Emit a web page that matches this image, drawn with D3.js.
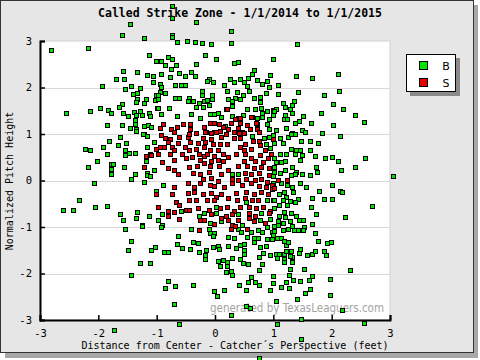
<!DOCTYPE html>
<html><head><meta charset="utf-8">
<script src="https://cdn.jsdelivr.net/npm/d3@7"></script>
<style>html,body{margin:0;padding:0;background:#fff;}svg{display:block;}</style>
</head><body>
<script>
const title = "Called Strike Zone - 1/1/2014 to 1/1/2015";
const xLabel = "Distance from Center - Catcher\u00b4s Perspective (feet)";
const yLabel = "Normalized Pitch Height";
const watermark = "generated by TexasLeaguers.com";
const xTicks = [-3,-2,-1,0,1,2,3];
const yTicks = [-3,-2,-1,0,1,2,3];
const gridLines = [-2,-1,0,1,2];
const legendLabels = ["B","S"];

const balls = [
[-0.74,3.76],[-0.74,3.50],[-1.46,3.37],[-0.33,3.41],[-1.60,3.13],[-1.21,3.07],[-0.74,3.13],[-0.74,3.08],[0.27,3.22],[-0.66,2.98],[-0.48,3.00],[-0.35,2.98],[-0.23,2.96],[-0.07,2.94],[0.27,2.96],[1.40,2.94],
[-2.82,2.81],[-2.18,2.85],[-1.13,2.70],[-1.02,2.57],[-1.58,2.35],[-1.33,2.33],[-1.17,2.27],[-1.07,2.25],[-1.70,2.18],[-1.56,2.18],[-1.07,2.12],[-1.94,2.03],[-1.44,2.03],[-1.55,1.96],[-1.29,1.99],[-1.33,1.88],[-1.41,1.86],[-1.34,1.75],[-1.19,1.75],[-1.02,1.84],[-1.03,1.73],[-1.36,1.68],[-1.22,1.66],[-1.60,1.64],[-1.65,1.58],[-1.98,1.56],[-1.84,1.51],[-1.79,1.45],[-1.58,1.45],[-2.15,1.49],[-2.56,1.45],[-1.50,1.38],[-1.39,1.47],[-1.29,1.49],[-1.36,1.40],[-1.26,1.40],[-1.14,1.45],[-1.12,1.38],[-1.00,1.56],[-1.38,1.30],[-1.38,1.21],[-1.86,1.19],[-1.60,1.19],[-1.46,1.12],[-1.36,1.10],[-1.21,1.17],[-1.15,1.19],[-1.09,1.14],[-1.22,0.99],
[-0.18,2.70],[0.01,2.61],[-0.81,2.66],[-0.74,2.61],[-0.93,2.57],[-0.85,2.48],[-0.67,2.48],[-0.76,2.40],[-0.33,2.51],[0.32,2.53],[0.39,2.55],[0.99,2.61],[-0.93,2.29],[-0.78,2.22],[-0.61,2.31],[-0.52,2.25],[-0.35,2.25],[-0.42,2.33],[0.66,2.38],[0.63,2.29],[0.94,2.27],[-0.11,2.18],[-0.13,2.14],[-0.04,2.12],[0.25,2.18],[0.32,2.12],[0.42,2.18],[0.56,2.20],[0.49,2.12],[0.72,2.16],[0.80,2.07],[0.89,2.14],[0.92,2.01],[-0.95,2.07],[-0.93,2.01],[-0.69,2.05],[-0.59,2.05],[-0.52,2.05],[0.15,2.05],[0.54,2.03],[-0.95,1.90],[-0.85,1.88],[-0.98,1.84],[-0.98,1.75],[-0.69,1.77],[-0.61,1.77],[-0.45,1.77],[-0.23,1.92],[-0.23,1.84],[-0.06,1.84],[-0.06,1.75],[0.20,1.92],[0.37,1.90],[0.22,1.75],[0.34,1.77],[0.30,1.71],[0.42,1.75],[0.48,1.84],[0.58,1.92],[0.66,1.77],[0.77,1.79],[0.77,1.68],[0.87,1.88],[-0.98,1.56],[-0.79,1.56],[-0.47,1.71],[-0.38,1.71],[-0.28,1.66],[-0.19,1.71],[-0.13,1.73],[-0.11,1.62],[-0.21,1.58],[-0.33,1.58],[0.30,1.60],[0.18,1.53],[0.54,1.53],[0.68,1.53],[0.79,1.56],[0.89,1.49],[0.99,1.51],[0.80,1.45],[-0.93,1.43],[-0.66,1.38],[-0.42,1.43],[-0.26,1.34],[-0.09,1.43],[-0.02,1.43],[0.05,1.45],[0.11,1.36],[0.30,1.38],[0.39,1.34],[0.48,1.40],[0.63,1.36],[0.72,1.34],[0.80,1.36],[0.92,1.32],[0.99,1.40],[0.72,1.21],[0.89,1.21],[0.92,1.10],[0.17,1.17],
[1.38,2.25],[1.66,2.20],[2.11,2.29],[1.08,2.05],[1.08,1.86],[1.42,1.90],[1.86,1.84],[2.12,1.92],[1.35,1.71],[1.16,1.66],[1.32,1.62],[1.20,1.58],[1.28,1.53],[1.04,1.53],[1.02,1.49],[1.32,1.45],[2.02,1.64],[2.19,1.53],[1.20,1.40],[1.51,1.38],[1.81,1.45],[2.40,1.40],[1.18,1.32],[1.23,1.32],[1.44,1.27],[1.37,1.23],[1.64,1.23],[2.02,1.19],[2.55,1.25],[1.21,1.12],[1.04,1.08],[1.49,1.08],[1.54,1.04],[1.83,1.02],[1.32,1.02],[1.37,0.99],
[-1.63,0.93],[-1.81,0.84],[-1.92,0.71],[-1.67,0.76],[-1.53,0.80],[-2.22,0.67],[-2.15,0.65],[-1.86,0.58],[-1.55,0.65],[-1.48,0.60],[-1.38,0.60],[-1.55,0.54],[-2.03,0.41],[-2.17,0.30],[-1.79,0.35],[-1.75,0.35],[-1.79,0.24],[-1.79,0.13],[-1.56,0.28],[-1.38,0.15],[-1.44,0.04],[-2.08,-0.06],[-2.34,-0.41],[-2.60,-0.63],[-2.44,-0.63],[-2.06,-0.56],[-1.86,-0.54],[-1.62,-0.71],[-1.34,-0.67],[-1.57,-0.86],[-1.36,-0.80],[-1.14,-0.76],[-1.26,-0.95],[-1.36,1.06],[-1.24,0.99],[-1.17,0.95],[-1.05,0.82],[-1.17,0.71],[-1.12,0.58],[-1.19,0.41],[-1.05,0.22],[-1.16,0.17],[-1.17,0.11],[-1.12,0.09],[-1.21,-0.04],[-1.02,-0.22],
[0.63,0.95],[0.84,0.91],[0.92,0.93],[0.99,0.97],[0.87,0.78],[0.94,0.69],[0.30,0.13],[0.39,0.15],[-0.90,-0.09],[0.89,-0.43],[0.99,-0.43],[-0.59,-0.65],[0.01,-0.56],[0.53,-0.47],[-0.91,-0.73],[-0.28,-0.76],[-0.19,-0.69],[0.01,-0.69],[0.39,-0.73],[0.78,-0.69],[-0.09,-0.91],[0.11,-0.88],[0.46,-0.95],[0.77,-0.84],[0.94,-0.82],[-0.91,-0.95],[-0.98,-0.86],
[1.11,0.91],[1.25,0.93],[1.30,0.99],[2.14,0.95],[1.02,0.80],[1.16,0.80],[1.47,0.84],[1.62,0.86],[1.76,0.80],[1.30,0.67],[1.38,0.65],[1.21,0.56],[1.11,0.56],[1.37,0.56],[1.45,0.65],[1.62,0.65],[1.49,0.54],[1.71,0.52],[1.88,0.48],[2.00,0.50],[2.10,0.43],[2.57,0.48],[1.02,0.48],[1.20,0.43],[1.04,0.39],[1.45,0.45],[1.13,0.39],[1.32,0.30],[1.73,0.30],[2.40,0.30],[2.16,0.22],[1.02,0.30],[1.02,0.19],[1.11,0.17],[1.20,0.22],[1.38,0.19],[1.49,0.13],[1.62,0.11],[1.74,0.19],[1.30,0.11],[1.37,0.15],[0.99,0.09],[1.14,-0.06],[1.23,-0.09],[1.32,-0.13],[0.99,-0.06],[1.45,-0.06],[1.56,-0.15],[2.00,-0.09],[1.78,-0.22],[2.14,-0.22],[2.17,-0.24],[3.05,0.09],[1.09,-0.30],[1.18,-0.24],[1.33,-0.24],[1.21,-0.35],[1.01,-0.43],[1.16,-0.41],[1.42,-0.39],[1.66,-0.37],[1.86,-0.39],[2.00,-0.39],[2.69,-0.54],[1.37,-0.47],[1.28,-0.45],[1.09,-0.52],[1.23,-0.52],[1.64,-0.58],[1.01,-0.60],[1.18,-0.67],[1.30,-0.69],[1.73,-0.71],[1.09,-0.76],[1.20,-0.78],[1.38,-0.76],[2.23,-0.78],[1.28,-0.88],[1.44,-0.86],[1.51,-0.84],[1.08,-0.88],[1.16,-0.91],[1.66,-0.93],[1.32,-0.97],[1.01,-0.97],[1.52,-0.99],
[-1.55,-1.04],[-1.26,-0.97],[-1.44,-1.30],[-1.50,-1.49],[-1.03,-1.43],[-1.09,-1.49],[-1.29,-1.77],[-1.12,-1.77],[-1.44,-2.03],
[-0.93,-0.99],[-0.42,-1.04],[-0.11,-1.04],[0.39,-1.04],[0.44,-1.10],[0.61,-1.10],[0.73,-1.06],[0.80,-1.10],[0.89,-1.01],[0.97,-1.10],[-0.09,-1.12],[-0.02,-1.12],[-0.04,-1.19],[0.23,-1.21],[0.32,-1.23],[0.54,-1.21],[0.66,-1.23],[0.73,-1.23],[0.89,-1.25],[0.99,-1.17],[-0.64,-1.19],[-0.38,-1.32],[-0.30,-1.34],[-0.66,-1.36],[-0.57,-1.45],[-0.43,-1.47],[-0.88,-1.53],[-0.81,-1.53],[-0.16,-1.49],[-0.28,-1.53],[-0.04,-1.43],[0.05,-1.40],[0.06,-1.47],[0.22,-1.40],[0.36,-1.45],[0.42,-1.38],[0.49,-1.36],[0.49,-1.49],[0.49,-1.58],[0.66,-1.32],[0.77,-1.43],[0.87,-1.40],[0.82,-1.55],[0.94,-1.60],[0.97,-1.25],[-0.18,-1.60],[-0.18,-1.68],[0.30,-1.66],[0.42,-1.68],[0.05,-1.73],[0.13,-1.71],[0.20,-1.75],[0.08,-1.84],[0.20,-1.84],[0.48,-1.77],[0.56,-1.79],[0.80,-1.79],[0.75,-1.64],[0.18,-1.97],[0.27,-1.94],[0.29,-2.03],[0.75,-1.92],[0.99,-2.05],[0.61,-2.07],[0.68,-2.18],[0.56,-2.18],[0.75,-2.24],[-0.81,-2.16],[-0.85,-2.31],[-0.69,-2.27],[-0.38,-2.24],[0.41,-2.24],[0.53,-2.35],[-0.01,-2.37],[0.03,-2.48],[0.15,-2.35],[0.95,-2.35],[-0.71,-2.66],[0.53,-2.70],[0.60,-2.74],[0.27,-2.89],[-0.62,-3.09],
[1.08,-0.95],[1.25,-1.04],[1.35,-1.06],[1.16,-1.06],[1.02,-1.08],[1.42,-1.06],[1.51,-1.06],[1.71,-1.12],[1.06,-1.23],[1.14,-1.23],[1.18,-1.30],[1.21,-1.38],[1.25,-1.32],[1.76,-1.30],[1.92,-1.34],[1.98,-1.32],[1.04,-1.58],[1.09,-1.58],[1.06,-1.66],[1.18,-1.58],[1.21,-1.51],[1.30,-1.51],[1.32,-1.64],[1.28,-1.62],[1.18,-1.68],[1.18,-1.75],[1.32,-1.75],[1.44,-1.55],[1.45,-1.47],[1.57,-1.60],[1.66,-1.58],[1.71,-1.51],[1.86,-1.51],[1.90,-1.60],[1.28,-1.90],[1.52,-1.90],[2.31,-1.92],[0.99,-2.20],[1.26,-2.03],[1.33,-2.14],[1.45,-2.16],[1.61,-2.14],[1.66,-2.05],[1.97,-2.12],[1.21,-2.18],[1.14,-2.29],[1.26,-2.31],[1.62,-2.33],[1.54,-2.42],[1.97,-2.46],[1.40,-2.55],[1.04,-2.59],[2.17,-2.79],[1.47,-2.98],[1.06,-3.09],[2.55,-3.07],
[-1.74,-3.22],[1.47,-3.41],[0.75,-3.82]
];

const strikes = [
[0.20,1.53],[-0.90,1.21],[-0.95,1.12],[-0.76,1.10],[-0.66,1.14],[-0.54,1.21],[-0.43,1.21],[-0.43,1.10],[-0.19,1.14],[-0.09,1.23],[-0.02,1.23],[0.06,1.21],[0.13,1.14],[0.22,1.10],[0.27,1.23],[0.34,1.32],[0.42,1.34],[0.54,1.19],[0.61,1.36],[0.70,1.23],[0.60,1.10],[0.42,1.23],[0.39,1.12],[0.46,1.04],[0.72,1.10],[-0.71,1.04],[-0.16,1.04],[-0.01,1.04],[0.08,1.06],[0.32,1.04],
[-1.02,0.67],[-1.19,0.52],[-1.10,0.54],[-1.22,0.28],[-1.02,-0.28],
[-0.93,0.97],[-0.85,0.91],[-0.78,0.89],[-0.61,0.93],[-0.47,0.93],[-0.45,0.99],[-0.33,1.02],[-0.18,1.04],[-0.07,1.02],[0.01,1.04],[0.11,0.93],[0.18,0.99],[0.32,0.91],[0.41,1.02],[0.49,1.02],[0.75,1.04],[-0.21,0.91],[-0.07,0.89],[0.42,0.91],[0.75,0.86],[-0.81,0.82],[-0.88,0.73],[-0.95,0.71],[-0.74,0.71],[-0.64,0.80],[-0.52,0.73],[-0.43,0.82],[-0.30,0.80],[-0.18,0.82],[-0.19,0.73],[-0.04,0.78],[0.08,0.78],[0.20,0.78],[0.42,0.73],[0.51,0.78],[0.65,0.84],[0.77,0.76],[-0.71,0.65],[-0.45,0.65],[-0.33,0.67],[-0.09,0.65],[0.05,0.65],[0.49,0.65],[0.61,0.67],[0.85,0.65],[-0.98,0.56],[-0.78,0.56],[-0.57,0.56],[-0.40,0.50],[-0.28,0.56],[-0.19,0.52],[-0.13,0.56],[-0.02,0.52],[0.13,0.56],[0.22,0.50],[0.36,0.56],[0.51,0.56],[0.61,0.48],[0.77,0.54],[0.96,0.56],[-0.91,0.39],[-0.71,0.45],[-0.50,0.48],[-0.25,0.45],[-0.07,0.43],[0.05,0.45],[0.13,0.43],[0.49,0.43],[0.68,0.43],[0.82,0.39],[0.90,0.48],[-0.81,0.26],[-0.71,0.22],[-0.64,0.15],[-0.45,0.28],[-0.31,0.32],[-0.19,0.37],[-0.09,0.32],[0.06,0.32],[0.22,0.22],[0.39,0.32],[0.54,0.32],[0.66,0.26],[0.78,0.30],[0.92,0.26],[-0.38,0.17],[-0.26,0.15],[-0.11,0.19],[0.10,0.15],[0.51,0.17],[0.61,0.13],[0.75,0.17],[0.92,0.11],[-0.21,0.04],[-0.07,0.06],[0.05,0.00],[0.29,0.04],[0.39,0.02],[0.53,0.04],[0.68,0.02],[0.78,0.04],[0.89,-0.04],[-0.71,-0.15],[-0.47,-0.06],[-0.36,-0.13],[-0.25,-0.06],[-0.09,-0.09],[-0.01,-0.11],[0.15,-0.15],[0.29,-0.06],[0.46,-0.09],[0.61,-0.06],[0.75,-0.11],[0.87,-0.13],[0.97,-0.09],[-0.74,-0.30],[-0.47,-0.26],[-0.36,-0.24],[-0.21,-0.28],[-0.07,-0.26],[0.01,-0.35],[0.11,-0.30],[0.23,-0.37],[0.36,-0.26],[0.53,-0.24],[0.66,-0.28],[0.78,-0.24],[0.90,-0.30],[0.97,-0.19],[-0.45,-0.41],[-0.33,-0.43],[-0.13,-0.43],[-0.02,-0.43],[0.37,-0.41],[0.51,-0.37],[0.63,-0.41],[0.73,-0.41],[-0.67,-0.47],[-0.61,-0.52],[-0.98,-0.56],[-0.81,-0.65],[-0.71,-0.67],[-0.50,-0.63],[-0.45,-0.63],[-0.30,-0.60],[-0.11,-0.63],[0.08,-0.60],[0.20,-0.58],[0.32,-0.65],[0.42,-0.56],[0.58,-0.56],[0.70,-0.60],[0.82,-0.56],[0.94,-0.65],[-0.81,-0.76],[-0.61,-0.82],[-0.07,-0.73],[0.11,-0.80],[0.18,-0.76],[0.29,-0.73],[0.58,-0.69],[0.68,-0.76],[0.92,-0.69],[-0.26,-0.84],[-0.19,-0.86],[-0.01,-0.93],[0.22,-0.86],[0.30,-0.95],[0.39,-0.84],[0.58,-0.80],[0.66,-0.88],[0.85,-0.91],
[0.99,0.89],[1.08,0.02],[1.23,0.02],[1.02,-0.17],
[-0.28,-1.06],[0.27,-1.04],[0.54,-1.04],[0.34,-0.97]
];

const W = 480, H = 360;
const svg = d3.select("body").append("svg").attr("width", W).attr("height", H);
const mono = "'DejaVu Sans Mono', 'Liberation Mono', monospace";

// frame + shadow
svg.append("rect").attr("x", 5).attr("y", 5).attr("width", 473).attr("height", 353).attr("fill", "#a8a8a8");
svg.append("rect").attr("x", 0.5).attr("y", 0.5).attr("width", 473).attr("height", 352)
  .attr("fill", "#e6e6e6").attr("stroke", "#333").attr("stroke-width", 1);

const x = d3.scaleLinear().domain([-3, 3]).range([40, 390]);
const y = d3.scaleLinear().domain([-3, 3]).range([320, 41]);

// plot background
svg.append("rect").attr("x", x(-3)).attr("y", y(3)).attr("width", x(3) - x(-3)).attr("height", y(-3) - y(3))
  .attr("fill", "#fefefe").attr("stroke", "#d0d0d0").attr("stroke-width", 1);

svg.append("g").selectAll("line").data(gridLines).join("line")
  .attr("x1", x(-3)).attr("x2", x(3)).attr("y1", d => Math.round(y(d)) + 0.5).attr("y2", d => Math.round(y(d)) + 0.5)
  .attr("stroke", "#d8d8d8").attr("stroke-width", 1);

// watermark
svg.append("text").attr("x", 210).attr("y", 312).attr("textLength", 174).attr("lengthAdjust", "spacingAndGlyphs")
  .attr("font-family", "'DejaVu Sans', Verdana, sans-serif").attr("font-size", 12.5).attr("fill", "#a4a4a4")
  .text(watermark);

// axes
const xAxis = d3.axisBottom(x).tickValues(xTicks).tickSize(-5).tickPadding(10).tickFormat(d => String(d));
const yAxis = d3.axisLeft(y).tickValues(yTicks).tickSize(-5).tickPadding(8).tickFormat(d => String(d));
const gx = svg.append("g").attr("transform", `translate(0,${y(-3)})`).call(xAxis);
const gy = svg.append("g").attr("transform", `translate(${x(-3)},0)`).call(yAxis);
[gx, gy].forEach(g => {
  g.select(".domain").attr("stroke", "#000").attr("stroke-width", 2);
  g.selectAll(".tick line").attr("stroke", "#000").attr("stroke-width", 1.5);
  g.selectAll(".tick text").attr("font-family", mono).attr("font-size", 10.5).attr("fill", "#000");
});

// points
function drawPts(data, fill) {
  svg.append("g").selectAll("rect").data(data).join("rect")
    .attr("x", d => Math.round(x(d[0])) - 2 + 0.5).attr("y", d => Math.round(y(d[1])) - 2 + 0.5)
    .attr("width", 4).attr("height", 4)
    .attr("fill", fill).attr("stroke", "#000").attr("stroke-width", 1);
}
drawPts(balls, "#00e400");
drawPts(strikes, "#e80000");

// title
svg.append("text").attr("x", 240).attr("y", 17).attr("text-anchor", "middle")
  .attr("font-family", mono).attr("font-weight", "bold").attr("font-size", 11.5).text(title);

// axis labels
svg.append("text").attr("x", 235).attr("y", 349).attr("text-anchor", "middle")
  .attr("font-family", mono).attr("font-size", 10).text(xLabel);
svg.append("text").attr("transform", "translate(13,181) rotate(-90)").attr("text-anchor", "middle")
  .attr("font-family", mono).attr("font-size", 10).text(yLabel);

// legend
const lg = svg.append("g");
lg.append("rect").attr("x", 410).attr("y", 58).attr("width", 50).attr("height", 38).attr("fill", "#8a8a8a");
lg.append("rect").attr("x", 406.5).attr("y", 54.5).attr("width", 49).attr("height", 37).attr("fill", "#fff").attr("stroke", "#000");
const legendColors = ["#00e400", "#e80000"];
legendLabels.forEach((lab, i) => {
  lg.append("rect").attr("x", 419.5).attr("y", 61.5 + i * 17).attr("width", 8).attr("height", 8)
    .attr("fill", legendColors[i]).attr("stroke", "#000");
  lg.append("text").attr("x", 446).attr("y", 69.5 + i * 17).attr("text-anchor", "middle")
    .attr("font-family", "'DejaVu Sans', sans-serif").attr("font-size", 11).text(lab);
});
</script>
</body></html>
